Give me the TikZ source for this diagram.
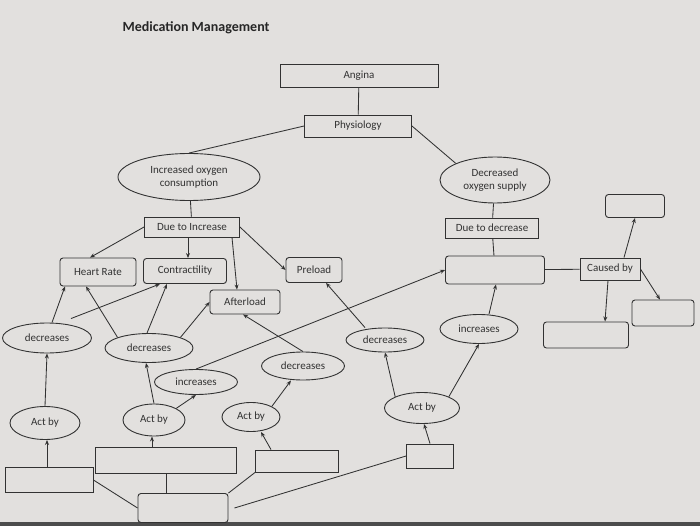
\documentclass[tikz,border=0pt]{standalone}
\usepackage{fontspec}
\setmainfont{Carlito}
\usetikzlibrary{shapes.geometric,arrows.meta}
\definecolor{paper}{RGB}{226,224,222}
\definecolor{ink}{RGB}{50,50,50}
\begin{document}
\begin{tikzpicture}[x=1pt,y=-1pt,
  base/.style={draw=ink,line width=0.9pt,inner sep=0pt,align=center,text=ink,font=\fontsize{11}{13.5}\selectfont},
  sbox/.style={base,rectangle,minimum width=#1},
  rbox/.style={base,rectangle,rounded corners=3pt,minimum width=#1},
  oval/.style={base,ellipse,minimum width=#1},
  link/.style={draw=ink,line width=0.85pt},
  arr/.style={link,-{Stealth[length=5pt,width=4pt]}}]
\fill[paper] (0,0) rectangle (700,526);
\useasboundingbox (0,0) rectangle (700,526);
\fill[black!70] (0,522) rectangle (700,526);

\node[anchor=west,font=\bfseries\fontsize{14}{16}\selectfont,text=black!85] (title) at (119,28) {Medication Management};

% top
\node[sbox=158,minimum height=23] (angina) at (359,76) {Angina};
\node[sbox=107,minimum height=22] (phys) at (358,126) {Physiology};
\node[oval=142,minimum height=47] (incox) at (189,177) {Increased oxygen\\consumption};
\node[oval=110,minimum height=46] (decox) at (495,180) {Decreased\\oxygen supply};
\node[sbox=95,minimum height=20] (dueinc) at (192,227) {Due to Increase};
\node[sbox=93,minimum height=20] (duedec) at (492,228) {Due to decrease};

% second row
\node[rbox=76,minimum height=28] (hr) at (98,272) {Heart Rate};
\node[rbox=83,minimum height=25] (contr) at (185,271) {Contractility};
\node[rbox=56,minimum height=25] (pre) at (314,270) {Preload};
\node[rbox=70,minimum height=24] (after) at (245,302) {Afterload};
\node[rbox=99,minimum height=28] (blankr) at (495,270) {};
\node[sbox=60,minimum height=22] (caused) at (610,269) {Caused by};
\node[rbox=59,minimum height=23] (btr) at (635,206) {};
\node[rbox=62,minimum height=26] (blr) at (663,313) {};
\node[rbox=85,minimum height=26] (bcb) at (586,335) {};

% ellipses middle
\node[oval=89,minimum height=30] (decl) at (47,338) {decreases};
\node[oval=88,minimum height=29] (decm) at (149,348) {decreases};
\node[oval=83,minimum height=25] (incl) at (196,382) {increases};
\node[oval=83,minimum height=28] (dect) at (303,366) {decreases};
\node[oval=78,minimum height=24] (decr) at (385,340) {decreases};
\node[oval=78,minimum height=29] (incr) at (479,329) {increases};

% act by
\node[oval=70,minimum height=33] (actl) at (45,423) {Act by};
\node[oval=62,minimum height=32] (actm) at (154,420) {Act by};
\node[oval=58,minimum height=29] (actt) at (251,417) {Act by};
\node[oval=75,minimum height=31] (actr) at (422,408) {Act by};

% bottom boxes
\node[sbox=88,minimum height=25] (bl) at (49,480) {};
\node[sbox=141,minimum height=26] (bm) at (166,460) {};
\node[sbox=83,minimum height=22] (bt) at (297,461) {};
\node[sbox=47,minimum height=24] (br) at (430,456) {};
\node[rbox=90,minimum height=29] (bot) at (183,508) {};

% plain links
\draw[link] (angina) -- (phys);
\draw[link] (phys.west) -- (incox.north);
\draw[link] (phys.east) -- (decox.north west);
\draw[link] (incox) -- (dueinc);
\draw[link] (decox) -- (duedec);
\draw[link] (duedec) -- (blankr);
\draw[link] (blankr) -- (caused);
\draw[link] (bl.east) -- (bot.west);
\draw[link] (bm.south) -- (bot.north -| bm.south);
\draw[link] (bt.south west) -- (bot.north east);
\draw[link] (br.west) -- ([xshift=6pt]bot.east);

% arrows from Due to Increase
\draw[arr] (dueinc.west) -- ([xshift=-8pt]hr.north);
\draw[arr] ([xshift=-4pt]dueinc.south) -- ([xshift=3pt]contr.north);
\draw[arr] ([xshift=40pt]dueinc.south) -- ([xshift=-8pt]after.north);
\draw[arr] (dueinc.east) -- (pre.west);

% to Heart Rate / Contractility / Afterload / Preload
\draw[arr] ([xshift=5pt]decl.north) -- ([xshift=-33pt]hr.south);
\draw[arr] ([xshift=24pt,yshift=4pt]decl.north) -- ([xshift=-25pt]contr.south);
\draw[arr] (decm.north west) -- ([xshift=-12pt]hr.south);
\draw[arr] ([xshift=-2pt]decm.north) -- ([xshift=-18pt]contr.south);
\draw[arr] (decm.north east) -- (after.west);
\draw[arr] (dect.north) -- ([xshift=-2pt]after.south);
\draw[arr] (incl.north) -- (blankr.west);
\draw[arr] ([xshift=-20pt]decr.north) -- ([xshift=12pt]pre.south);
\draw[arr] ([xshift=10pt]incr.north) -- ([xshift=1pt]blankr.south);

% caused by
\draw[arr] ([xshift=14pt]caused.north) -- (btr.south);
\draw[arr] (caused.east) -- ([xshift=-3pt]blr.north);
\draw[arr] ([xshift=-2pt]caused.south) -- ([xshift=19pt]bcb.north);

% act by arrows
\draw[arr] (actl.north) -- (decl.south);
\draw[arr] (actm.north) -- ([xshift=-3pt]decm.south);
\draw[arr] (actm.north east) -- (incl.south);
\draw[arr] (actt.north east) -- ([xshift=-12pt]dect.south);
\draw[arr] (actr.north west) -- (decr.south);
\draw[arr] (actr.north east) -- (incr.south);

% box to act by
\draw[arr] ([xshift=-2pt]bl.north) -- ([xshift=2pt]actl.south);
\draw[arr] ([xshift=-14pt]bm.north) -- ([xshift=-2pt]actm.south);
\draw[arr] ([xshift=-26pt]bt.north) -- ([xshift=10pt]actt.south);
\draw[arr] (br.north) -- ([xshift=2pt]actr.south);
\end{tikzpicture}
\end{document}
